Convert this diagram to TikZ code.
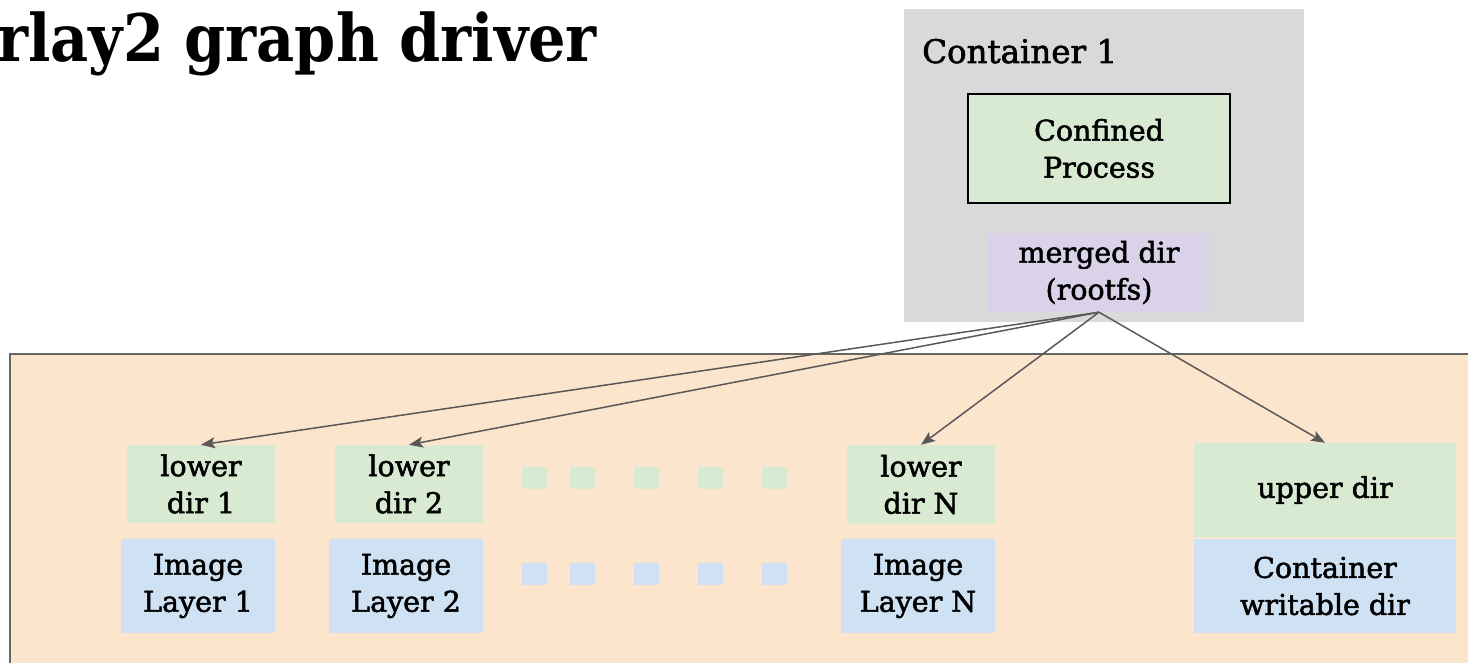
\documentclass[tikz,border=0pt]{standalone}
\usepackage{fontspec}
\setmainfont{DejaVu Serif}[FakeBold=1.8]
\newfontfamily\titlefont{DejaVu Serif Condensed}
\usetikzlibrary{arrows.meta}
\definecolor{grayfill}{HTML}{D9D9D9}
\definecolor{greenfill}{HTML}{D9EAD3}
\definecolor{bluefill}{HTML}{CFE2F3}
\definecolor{purplefill}{HTML}{D9D2E9}
\definecolor{orangefill}{HTML}{FCE5CD}
\definecolor{edgegray}{HTML}{666666}
\definecolor{arrowgray}{HTML}{595959}
\tikzset{
  lbl/.style={font=\fontsize{28.5}{37}\selectfont, align=center, text=black, inner sep=0pt},
  greenbox/.style={lbl, fill=greenfill, draw=none},
  bluebox/.style={lbl, fill=bluefill, draw=none},
  purplebox/.style={lbl, fill=purplefill, draw=none},
  procbox/.style={lbl, fill=greenfill, draw=black, line width=1.5pt},
  dotsq/.style={minimum width=25pt, minimum height=22pt, inner sep=0pt, draw=none},
  link/.style={draw=arrowgray, line width=1.5pt, -{Stealth[length=14pt,width=11pt,inset=3pt]}}
}
\begin{document}
\begin{tikzpicture}[x=1pt,y=-1pt]
\useasboundingbox (0,0) rectangle (1468,663);
% title
\node[anchor=base west, inner sep=0pt, font=\titlefont\bfseries\fontsize{65.5}{70}\selectfont] (title) at (-3,62) {rlay2 graph driver};
% container 1
\node[fill=grayfill, draw=none, minimum width=400pt, minimum height=313pt, inner sep=0pt] (cont) at (1104,165.5) {};
\node[anchor=base west, inner sep=0pt, font=\fontsize{32.5}{37}\selectfont] (conttitle) at (922,63) {Container 1};
\node[procbox, minimum width=262pt, minimum height=109pt] (proc) at (1099,148.5) {Confined\\Process};
\node[purplebox, minimum width=222pt, minimum height=79pt] (merged) at (1099,272.5) {merged dir\\(rootfs)};
% overlay area
\node[fill=orangefill, draw=edgegray, line width=1.5pt, minimum width=1480pt, minimum height=330pt, inner sep=0pt, anchor=north west] (area) at (9,353) {};
% lower dirs
\node[greenbox, minimum width=148pt, minimum height=78pt] (l1) at (201,484) {lower\\dir 1};
\node[greenbox, minimum width=148pt, minimum height=78pt] (l2) at (409,484) {lower\\dir 2};
\node[greenbox, minimum width=148pt, minimum height=79pt] (ln) at (921,484.5) {lower\\dir N};
\node[bluebox, minimum width=154pt, minimum height=94pt] (i1) at (198,586) {Image\\Layer 1};
\node[bluebox, minimum width=154pt, minimum height=94pt] (i2) at (406,586) {Image\\Layer 2};
\node[bluebox, minimum width=154pt, minimum height=94pt] (in) at (918,586) {Image\\Layer N};
\node[greenbox, minimum width=262pt, minimum height=94pt] (up) at (1325,490) {upper dir};
\node[bluebox, minimum width=262pt, minimum height=94pt] (cw) at (1325,586) {Container\\writable dir};
% dots
\foreach \x [count=\i] in {522,570,634,698,762} {
  \node[dotsq, fill=greenfill, anchor=north west] (gd\i) at (\x,467) {};
  \node[dotsq, fill=bluefill, anchor=north west] (bd\i) at (\x,563) {};
}
% arrows
\draw[link] (merged.south) -- (l1.north);
\draw[link] (merged.south) -- (l2.north);
\draw[link] (merged.south) -- (ln.north);
\draw[link] (merged.south) -- (up.north);
\end{tikzpicture}
\end{document}
